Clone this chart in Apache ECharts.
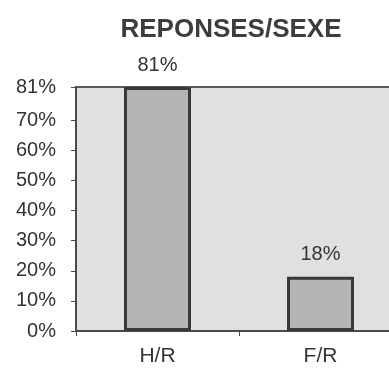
<!DOCTYPE html>
<html>
<head>
<meta charset="utf-8">
<script src="https://cdn.jsdelivr.net/npm/echarts@6/dist/echarts.min.js"></script>
<style>
  html, body { margin: 0; padding: 0; background: #ffffff; }
  #chart { width: 389px; height: 371px; }
</style>
</head>
<body>
<div id="chart"></div>
<script>
// Share of responses by sex
const categories = ['H/R', 'F/R'];
const responseShare = [81, 18];
const yTickValues = [0, 10, 20, 30, 40, 50, 60, 70, 81];

const FONT = 'Liberation Sans, Arial, sans-serif';
const chart = echarts.init(document.getElementById('chart'), null, { renderer: 'canvas' });

chart.setOption({
  backgroundColor: '#ffffff',
  animation: false,
  title: {
    text: 'REPONSES/SEXE',
    left: 226,
    top: 12,
    textAlign: 'center',
    textStyle: {
      fontFamily: FONT,
      fontWeight: 'bold',
      fontSize: 26,
      color: '#3d3d3d'
    }
  },
  grid: {
    left: 76,
    top: 87,
    width: 326,
    height: 244,
    outerBoundsMode: 'none',
    containLabel: false,
    show: true,
    backgroundColor: '#e0e0e0',
    borderColor: '#5a5a5a',
    borderWidth: 2
  },
  xAxis: {
    type: 'category',
    data: categories,
    axisLine: { lineStyle: { color: '#4a4a4a', width: 2 } },
    axisTick: { show: true, length: 5, lineStyle: { color: '#4a4a4a' } },
    axisLabel: {
      margin: 15,
      fontFamily: FONT,
      fontSize: 21,
      color: '#333333'
    }
  },
  yAxis: {
    type: 'value',
    min: 0,
    max: 81,
    interval: 10,
    splitLine: { show: false },
    axisLine: { show: true, lineStyle: { color: '#4a4a4a', width: 2 } },
    axisTick: {
      show: true,
      length: 5,
      customValues: yTickValues,
      lineStyle: { color: '#4a4a4a' }
    },
    axisLabel: {
      customValues: yTickValues,
      formatter: v => v + '%',
      margin: 20,
      fontFamily: FONT,
      fontSize: 20,
      color: '#333333'
    }
  },
  series: [{
    type: 'bar',
    data: responseShare,
    barWidth: 67,
    itemStyle: {
      color: '#b5b5b5',
      borderColor: '#383838',
      borderWidth: 3
    },
    label: {
      show: true,
      position: 'top',
      distance: 12,
      formatter: p => p.value + '%',
      fontFamily: FONT,
      fontSize: 20,
      color: '#333333'
    }
  }]
});
</script>
</body>
</html>
